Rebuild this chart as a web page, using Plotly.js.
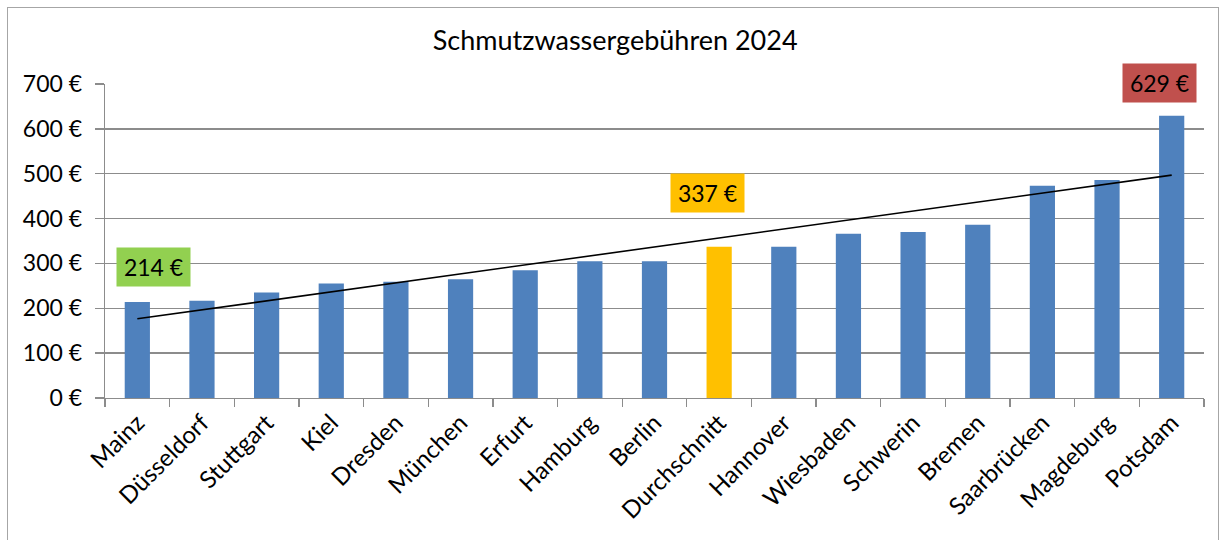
<!DOCTYPE html>
<html>
<head>
<meta charset="utf-8">
<script src="https://cdn.plot.ly/plotly-3.0.1.min.js"></script>
<style>
  html, body { margin: 0; padding: 0; background: #fff; }
  #wrap { position: relative; width: 1223px; height: 540px; }
  #frame { position: absolute; left: 7px; top: 7px; width: 1212px; height: 545px; border: 1px solid #a6a6a6; box-sizing: border-box; pointer-events: none; }
  #chart { position: absolute; left: 0; top: 0; width: 1223px; height: 540px; }
</style>
</head>
<body>
<div id="wrap">
  <div id="chart"></div>
  <div id="frame"></div>
</div>
<script>
const cities = ["Mainz", "Düsseldorf", "Stuttgart", "Kiel", "Dresden", "München", "Erfurt", "Hamburg", "Berlin", "Durchschnitt", "Hannover", "Wiesbaden", "Schwerin", "Bremen", "Saarbrücken", "Magdeburg", "Potsdam"];
const fees = [214, 217, 235, 255, 259, 265, 285, 305, 305, 337, 337, 366, 370, 386, 473, 486, 629];
const yTicks = [0, 100, 200, 300, 400, 500, 600, 700];
const chartTitle = "Schmutzwassergebühren 2024";
const highlight = [
  { city: "Mainz", label: "214 €", color: "#92D050" },
  { city: "Durchschnitt", label: "337 €", color: "#FFC000" },
  { city: "Potsdam", label: "629 €", color: "#C0504D" }
];
const labelShift = { "Mainz": [16, 35], "Durchschnitt": [-12, 54], "Potsdam": [-12, 33] };

const barColors = cities.map(c => c === "Durchschnitt" ? "#FFC000" : "#4F81BD");

// linear trend line (least squares over all bars)
const n = fees.length;
const xs = fees.map((_, i) => i);
const mx = xs.reduce((a, b) => a + b, 0) / n;
const my = fees.reduce((a, b) => a + b, 0) / n;
let sxy = 0, sxx = 0;
for (let i = 0; i < n; i++) { sxy += (xs[i] - mx) * (fees[i] - my); sxx += (xs[i] - mx) ** 2; }
const slope = sxy / sxx, icpt = my - slope * mx;
const trend = xs.map(x => icpt + slope * x);

const font = "Lato, 'Open Sans', sans-serif";

const traces = [
  { type: "bar", x: cities, y: fees, marker: { color: barColors }, width: 0.39, hoverinfo: "x+y" },
  { type: "scatter", mode: "lines", x: [cities[0], cities[n - 1]], y: [trend[0], trend[n - 1]], line: { color: "#000", width: 1.6 }, hoverinfo: "skip" }
];

const annotations = highlight.map(h => {
  const i = cities.indexOf(h.city);
  const s = labelShift[h.city];
  return {
    x: h.city, y: fees[i], xref: "x", yref: "y",
    text: h.label, showarrow: false, xshift: s[0], yshift: s[1],
    bgcolor: h.color, width: 71, height: 36, align: "center", valign: "middle",
    font: { family: font, size: 23, color: "#000" }
  };
});

const layout = {
  width: 1223, height: 540,
  margin: { l: 105, r: 19, t: 84, b: 142 },
  paper_bgcolor: "rgba(0,0,0,0)", plot_bgcolor: "#fff",
  showlegend: false,
  bargap: 0.61,
  title: { text: chartTitle, x: 0.503, xref: "container", y: 0.925, yref: "container", xanchor: "center", yanchor: "middle", font: { family: font, size: 27, color: "#000" } },
  xaxis: {
    type: "category", tickangle: -45, tickson: "boundaries", ticks: "outside", ticklen: 8, tickcolor: "#8c8c8c", tickwidth: 1.3,
    showline: true, linecolor: "#8c8c8c", linewidth: 1.3, showgrid: false,
    tickfont: { family: font, size: 24, color: "#000" }
  },
  yaxis: {
    range: [0, 700], tickvals: yTicks, ticktext: yTicks.map(v => v + " €"),
    ticks: "outside", ticklen: 9, tickcolor: "#8c8c8c", tickwidth: 1.3,
    showline: true, linecolor: "#8c8c8c", linewidth: 1.3,
    showgrid: true, gridcolor: "#8c8c8c", gridwidth: 1.3, zeroline: false,
    ticklabelstandoff: 8,
    tickfont: { family: font, size: 23, color: "#000" }
  },
  annotations: annotations
};

Plotly.newPlot("chart", traces, layout, { displayModeBar: false, staticPlot: true });
</script>
</body>
</html>
